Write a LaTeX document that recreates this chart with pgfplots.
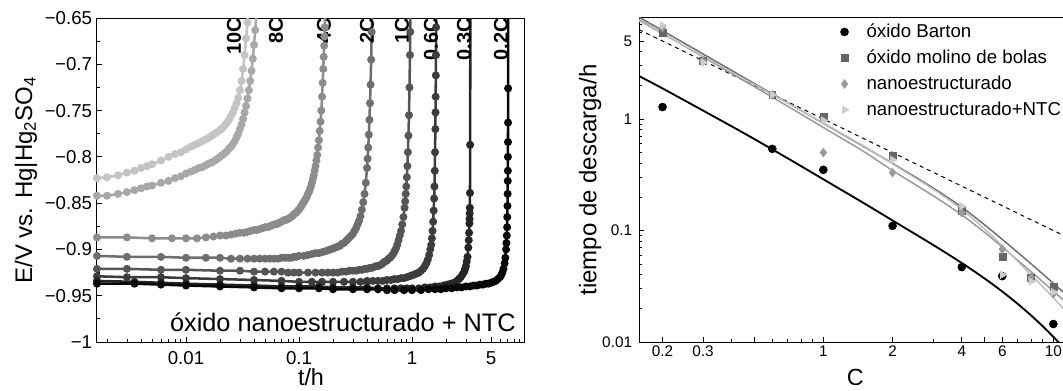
\documentclass[border=0pt]{standalone}
\usepackage{pgfplots}
\pgfplotsset{compat=1.18}
\usepackage{fontspec}
\setmainfont{Liberation Sans}
\definecolor{cA}{HTML}{C4C4C4}
\definecolor{cB}{HTML}{A8A8A8}
\definecolor{cC}{HTML}{8C8C8C}
\definecolor{cD}{HTML}{6E6E6E}
\definecolor{cE}{HTML}{555555}
\definecolor{cF}{HTML}{3C3C3C}
\definecolor{cG}{HTML}{262626}
\definecolor{cH}{HTML}{080808}
\definecolor{mMol}{HTML}{666666}
\definecolor{mNano}{HTML}{9A9A9A}
\definecolor{mNtc}{HTML}{CCCCCC}
\definecolor{lDark}{HTML}{6E6E6E}
\definecolor{lMed}{HTML}{999999}
\definecolor{lLight}{HTML}{BDBDBD}
\newcommand{\legfont}{\fontsize{14}{16}\selectfont}
\begin{document}
\begin{tikzpicture}
% ---------------- left panel ----------------
\begin{axis}[
  at={(72.75pt,36pt)}, anchor=south west, scale only axis,
  width=321pt, height=243pt,
  xmode=log, xmin=0.00163, xmax=10, ymin=-1, ymax=-0.65,
  axis line style={line width=0.75pt},
  tick align=inside, tick pos=left,
  xtick={0.01,0.1,1,5}, xticklabels={0.01,0.1,1,5},
  minor xtick={0.002,0.003,0.004,0.005,0.006,0.007,0.008,0.009,0.02,0.03,0.04,0.05,0.06,0.07,0.08,0.09,0.2,0.3,0.4,0.5,0.6,0.7,0.8,0.9,2,3,4,6,7,8,9},
  ytick={-1,-0.95,-0.9,-0.85,-0.8,-0.75,-0.7,-0.65},
  yticklabels={−1,−0.95,−0.9,−0.85,−0.8,−0.75,−0.7,−0.65},
  minor ytick={-0.975,-0.925,-0.875,-0.825,-0.775,-0.725,-0.675},
  major tick length=4pt, minor tick length=2.5pt,
  tick style={black, line width=0.6pt},
  ticklabel style={font=\fontsize{14}{16}\selectfont},
  xticklabel style={inner sep=0pt, yshift=-7pt},
  yticklabel style={inner sep=0pt, xshift=-3.5pt},
  xlabel={t/h},
  ylabel={E/V vs. Hg|Hg\textsubscript{2}SO\textsubscript{4}},
  xlabel style={at={(axis description cs:0.5,-0.082)}, anchor=north, inner sep=0pt, font=\fontsize{17.5}{20}\selectfont},
  ylabel style={at={(axis description cs:-0.166,0.5)}, anchor=center, inner sep=0pt, font=\fontsize{18}{20}\selectfont},
  every axis plot/.append style={line width=1.9pt, mark=*, mark size=2pt},
]
% 10C
\addplot[cA, mark options={fill=cA, draw=cA}] coordinates {
(0.00163,-0.823)(0.002,-0.822)(0.0025,-0.820)(0.003,-0.817)(0.0035,-0.815)(0.004,-0.812)(0.0045,-0.810)(0.005,-0.808)(0.006,-0.804)(0.007,-0.800)(0.008,-0.797)(0.009,-0.795)(0.010,-0.792)(0.011,-0.789)(0.012,-0.787)(0.013,-0.785)(0.014,-0.783)(0.015,-0.781)(0.016,-0.779)(0.017,-0.777)(0.018,-0.775)(0.019,-0.773)(0.020,-0.771)(0.021,-0.769)(0.022,-0.766)(0.023,-0.763)(0.024,-0.760)(0.025,-0.756)(0.026,-0.752)(0.027,-0.747)(0.028,-0.742)(0.029,-0.736)(0.030,-0.728)(0.031,-0.718)(0.032,-0.705)(0.033,-0.690)(0.034,-0.672)(0.035,-0.655)(0.0356,-0.640)};
% 8C
\addplot[cB, mark options={fill=cB, draw=cB}] coordinates {
(0.00163,-0.842)(0.002,-0.842)(0.0025,-0.840)(0.003,-0.838)(0.0035,-0.836)(0.004,-0.834)(0.0045,-0.832)(0.005,-0.831)(0.006,-0.828)(0.007,-0.826)(0.008,-0.823)(0.009,-0.821)(0.010,-0.818)(0.011,-0.816)(0.012,-0.814)(0.013,-0.812)(0.014,-0.811)(0.015,-0.809)(0.016,-0.807)(0.017,-0.806)(0.018,-0.804)(0.019,-0.802)(0.020,-0.800)(0.021,-0.798)(0.022,-0.796)(0.023,-0.794)(0.024,-0.791)(0.025,-0.789)(0.026,-0.786)(0.027,-0.783)(0.028,-0.779)(0.029,-0.775)(0.030,-0.770)(0.031,-0.765)(0.032,-0.759)(0.033,-0.752)(0.034,-0.745)(0.035,-0.737)(0.036,-0.728)(0.037,-0.718)(0.038,-0.707)(0.039,-0.694)(0.040,-0.679)(0.041,-0.663)(0.042,-0.646)};
% 4C
\addplot[cC, mark options={fill=cC, draw=cC}] coordinates {
(0.00163,-0.887)(0.003,-0.887)(0.005,-0.888)(0.0075,-0.888)(0.01,-0.888)(0.0125,-0.888)(0.015,-0.887)(0.0175,-0.886)(0.02,-0.885)(0.0225,-0.885)(0.025,-0.884)(0.0275,-0.883)(0.03,-0.882)(0.0325,-0.882)(0.035,-0.881)(0.0375,-0.880)(0.04,-0.879)(0.0425,-0.879)(0.045,-0.878)(0.0475,-0.877)(0.05,-0.876)(0.0525,-0.876)(0.055,-0.875)(0.0575,-0.874)(0.06,-0.873)(0.0625,-0.873)(0.065,-0.872)(0.0675,-0.871)(0.07,-0.870)(0.0725,-0.869)(0.075,-0.868)(0.0775,-0.868)(0.08,-0.867)(0.0825,-0.866)(0.085,-0.865)(0.0875,-0.864)(0.09,-0.862)(0.0925,-0.861)(0.095,-0.860)(0.0975,-0.858)(0.10,-0.857)(0.1025,-0.855)(0.105,-0.853)(0.1075,-0.851)(0.11,-0.849)(0.1125,-0.847)(0.115,-0.845)(0.1175,-0.843)(0.12,-0.840)(0.1225,-0.838)(0.125,-0.835)(0.1275,-0.832)(0.13,-0.828)(0.1325,-0.824)(0.135,-0.820)(0.1375,-0.815)(0.14,-0.810)(0.1425,-0.804)(0.145,-0.798)(0.1475,-0.790)(0.15,-0.782)(0.1525,-0.772)(0.155,-0.762)(0.1575,-0.750)(0.16,-0.735)(0.162,-0.720)(0.164,-0.705)(0.1655,-0.692)(0.167,-0.680)(0.168,-0.670)(0.169,-0.660)(0.171,-0.640)};
% 2C
\addplot[cD, mark options={fill=cD, draw=cD}] coordinates {
(0.00163,-0.907)(0.003,-0.908)(0.006,-0.908)(0.01,-0.909)(0.015,-0.909)(0.02,-0.909)(0.025,-0.910)(0.03,-0.910)(0.035,-0.910)(0.04,-0.910)(0.045,-0.910)(0.05,-0.910)(0.055,-0.910)(0.06,-0.910)(0.065,-0.910)(0.07,-0.909)(0.075,-0.909)(0.08,-0.909)(0.085,-0.909)(0.09,-0.908)(0.095,-0.908)(0.10,-0.907)(0.11,-0.907)(0.12,-0.906)(0.13,-0.905)(0.14,-0.904)(0.15,-0.904)(0.16,-0.903)(0.17,-0.902)(0.18,-0.901)(0.19,-0.900)(0.20,-0.899)(0.21,-0.898)(0.22,-0.897)(0.23,-0.896)(0.24,-0.894)(0.25,-0.893)(0.26,-0.891)(0.27,-0.889)(0.28,-0.887)(0.29,-0.885)(0.30,-0.883)(0.31,-0.880)(0.32,-0.877)(0.33,-0.873)(0.34,-0.869)(0.35,-0.864)(0.36,-0.857)(0.37,-0.849)(0.38,-0.840)(0.39,-0.828)(0.40,-0.812)(0.405,-0.802)(0.41,-0.790)(0.415,-0.776)(0.42,-0.760)(0.425,-0.742)(0.43,-0.722)(0.435,-0.695)(0.44,-0.665)(0.443,-0.645)};
% 1C
\addplot[cE, mark options={fill=cE, draw=cE}] coordinates {
(0.00163,-0.921)(0.003,-0.921)(0.006,-0.922)(0.01,-0.922)(0.02,-0.923)(0.03,-0.923)(0.04,-0.924)(0.05,-0.924)(0.06,-0.924)(0.07,-0.924)(0.08,-0.925)(0.09,-0.925)(0.10,-0.925)(0.12,-0.925)(0.14,-0.925)(0.16,-0.925)(0.18,-0.925)(0.20,-0.925)(0.22,-0.925)(0.24,-0.924)(0.26,-0.924)(0.28,-0.923)(0.30,-0.923)(0.32,-0.923)(0.34,-0.922)(0.36,-0.922)(0.38,-0.921)(0.40,-0.921)(0.42,-0.920)(0.44,-0.920)(0.46,-0.919)(0.48,-0.918)(0.50,-0.918)(0.52,-0.917)(0.54,-0.916)(0.56,-0.914)(0.58,-0.913)(0.60,-0.912)(0.62,-0.910)(0.64,-0.909)(0.66,-0.907)(0.68,-0.905)(0.70,-0.902)(0.72,-0.899)(0.74,-0.895)(0.76,-0.890)(0.78,-0.885)(0.80,-0.880)(0.82,-0.873)(0.84,-0.865)(0.86,-0.855)(0.87,-0.848)(0.88,-0.840)(0.89,-0.832)(0.90,-0.822)(0.91,-0.810)(0.92,-0.795)(0.93,-0.777)(0.94,-0.755)(0.95,-0.725)(0.96,-0.690)(0.965,-0.665)(0.97,-0.645)};
% 0.6C
\addplot[cF, mark options={fill=cF, draw=cF}] coordinates {
(0.00163,-0.929)(0.003,-0.930)(0.006,-0.930)(0.01,-0.931)(0.02,-0.932)(0.04,-0.933)(0.07,-0.934)(0.1,-0.935)(0.13,-0.935)(0.16,-0.935)(0.2,-0.935)(0.25,-0.935)(0.3,-0.935)(0.35,-0.935)(0.4,-0.934)(0.45,-0.934)(0.5,-0.934)(0.55,-0.934)(0.6,-0.933)(0.65,-0.933)(0.7,-0.932)(0.75,-0.932)(0.8,-0.931)(0.85,-0.931)(0.9,-0.930)(0.95,-0.929)(1.0,-0.928)(1.05,-0.927)(1.1,-0.926)(1.15,-0.925)(1.2,-0.923)(1.25,-0.921)(1.3,-0.918)(1.34,-0.915)(1.38,-0.911)(1.42,-0.906)(1.45,-0.900)(1.48,-0.895)(1.50,-0.888)(1.52,-0.880)(1.54,-0.870)(1.555,-0.858)(1.57,-0.845)(1.58,-0.832)(1.59,-0.815)(1.60,-0.795)(1.61,-0.770)(1.615,-0.752)(1.62,-0.735)(1.625,-0.712)(1.63,-0.690)(1.635,-0.660)(1.64,-0.645)};
% 0.3C
\addplot[cG, mark options={fill=cG, draw=cG}] coordinates {
(0.00163,-0.934)(0.0035,-0.935)(0.006,-0.936)(0.01,-0.937)(0.02,-0.938)(0.04,-0.939)(0.07,-0.940)(0.1,-0.940)(0.15,-0.940)(0.2,-0.941)(0.3,-0.941)(0.4,-0.941)(0.5,-0.942)(0.6,-0.942)(0.7,-0.942)(0.8,-0.942)(0.9,-0.942)(1.0,-0.942)(1.15,-0.942)(1.3,-0.941)(1.45,-0.941)(1.6,-0.940)(1.75,-0.940)(1.9,-0.939)(2.05,-0.938)(2.2,-0.937)(2.35,-0.936)(2.5,-0.934)(2.6,-0.932)(2.7,-0.930)(2.8,-0.927)(2.9,-0.924)(2.95,-0.921)(3.0,-0.918)(3.05,-0.913)(3.1,-0.908)(3.15,-0.898)(3.18,-0.890)(3.2,-0.882)(3.22,-0.872)(3.23,-0.867)(3.24,-0.861)(3.25,-0.855)(3.26,-0.839)(3.27,-0.787)(3.285,-0.640)};
% 0.2C
\addplot[cH, mark options={fill=cH, draw=cH}] coordinates {
(0.00163,-0.937)(0.0035,-0.937)(0.006,-0.938)(0.01,-0.939)(0.02,-0.940)(0.04,-0.941)(0.07,-0.942)(0.1,-0.942)(0.15,-0.942)(0.2,-0.943)(0.3,-0.943)(0.4,-0.943)(0.5,-0.943)(0.6,-0.944)(0.7,-0.944)(0.85,-0.944)(1.0,-0.944)(1.2,-0.944)(1.4,-0.943)(1.6,-0.943)(1.8,-0.943)(2.0,-0.942)(2.25,-0.942)(2.5,-0.941)(2.75,-0.941)(3.0,-0.940)(3.25,-0.940)(3.5,-0.939)(3.75,-0.939)(4.0,-0.938)(4.25,-0.938)(4.5,-0.937)(4.75,-0.937)(5.0,-0.936)(5.25,-0.935)(5.5,-0.934)(5.75,-0.932)(6.0,-0.930)(6.15,-0.928)(6.3,-0.925)(6.45,-0.921)(6.6,-0.915)(6.7,-0.909)(6.8,-0.900)(6.85,-0.893)(6.9,-0.885)(6.95,-0.876)(6.97,-0.865)(7.0,-0.853)(7.02,-0.840)(7.04,-0.826)(7.05,-0.815)(7.06,-0.800)(7.07,-0.784)(7.08,-0.763)(7.09,-0.726)(7.10,-0.640)};
\begin{scope}[every node/.style={font=\fontsize{15}{17}\selectfont\bfseries, rotate=90, anchor=east, inner sep=0pt, yshift=-3pt}]
\node at (axis cs:0.0245,-0.65) {10C};
\node at (axis cs:0.0577,-0.65) {8C};
\node at (axis cs:0.153,-0.65) {4C};
\node at (axis cs:0.368,-0.65) {2C};
\node at (axis cs:0.75,-0.65) {1C};
\node at (axis cs:1.36,-0.65) {0.6C};
\node at (axis cs:2.66,-0.65) {0.3C};
\node at (axis cs:5.65,-0.65) {0.2C};
\end{scope}
\node[anchor=base east, inner sep=0pt, font=\fontsize{19}{21}\selectfont] at (rel axis cs:0.979,0.031) {óxido nanoestructurado + NTC};
\end{axis}
% ---------------- right panel ----------------
\begin{axis}[
  at={(479.25pt,36pt)}, anchor=south west, scale only axis,
  width=324.4pt, height=243pt,
  xmode=log, ymode=log, xmin=0.158, xmax=12, ymin=0.01, ymax=8.05,
  axis line style={line width=0.75pt},
  tick align=inside, tick pos=left,
  xtick={0.2,0.3,1,2,4,6,10}, xticklabels={0.2,0.3,1,2,4,6,10},
  extra x ticks={0.5,5}, extra x tick labels={},
  minor xtick={0.4,0.6,0.7,0.8,0.9,3,7,8,9},
  ytick={0.01,0.1,1,5}, yticklabels={0.01,0.1,1,5},
  minor ytick={0.02,0.03,0.04,0.05,0.06,0.07,0.08,0.09,0.2,0.3,0.4,0.5,0.6,0.7,0.8,0.9,2,3,4,6,7,8},
  major tick length=4pt, minor tick length=2.5pt,
  tick style={black, line width=0.6pt},
  ticklabel style={font=\fontsize{11.5}{13}\selectfont},
  xticklabel style={inner sep=0pt, yshift=-2.5pt},
  yticklabel style={inner sep=0pt, xshift=-5pt},
  xlabel={C},
  ylabel={tiempo de descarga/h},
  xlabel style={at={(axis description cs:0.5,-0.082)}, anchor=north, inner sep=0pt, font=\fontsize{17.5}{20}\selectfont},
  ylabel style={at={(axis description cs:-0.113,0.5)}, anchor=center, inner sep=0pt, font=\fontsize{18}{20}\selectfont},
  legend style={at={(axis description cs:0.439,1.003)}, anchor=north west, draw=none, fill=none,
    row sep=1.5pt, nodes={text height=11pt, text depth=3pt, inner sep=2pt}},
  legend cell align=left,
  legend image code/.code={%
    \path[draw=none, fill=none] (0cm,-0.1cm) rectangle (0.81cm,0.1cm);
    \draw[mark repeat=2,mark phase=2,#1] plot coordinates {(0cm,0cm)(0.3cm,0cm)(0.6cm,0cm)};},
]
% fits
\addplot[forget plot, black, dashed, line width=0.75pt] coordinates {(0.158,6.33)(12,0.0833)};
\addplot[forget plot, black, line width=1.4pt, smooth] coordinates {
(0.158,2.43)(0.2,1.88)(0.3,1.19)(0.45,0.75)(0.6,0.534)(0.8,0.378)(1,0.288)(1.5,0.176)(2,0.123)(3,0.0743)(4,0.0511)(5,0.0374)(6,0.02835)(7,0.02198)(8,0.01733)(9,0.01383)(10,0.01113)(11,0.00904)};
\addplot[forget plot, lDark, line width=1.1pt, smooth] coordinates {
(0.158,8.2)(0.3,3.83)(0.6,1.68)(1,0.914)(1.5,0.565)(2,0.40)(3,0.241)(4,0.162)(5,0.1133)(6,0.0832)(8,0.0503)(10,0.0336)(12,0.024)};
\addplot[forget plot, lMed, line width=1.1pt, smooth] coordinates {
(0.158,7.8)(0.3,3.6)(0.6,1.57)(1,0.84)(1.5,0.51)(2,0.345)(3,0.205)(4,0.138)(5,0.097)(6,0.071)(8,0.0428)(10,0.0286)(12,0.0204)};
\addplot[forget plot, lLight, line width=1.1pt, smooth] coordinates {
(0.158,7.6)(0.3,3.65)(0.6,1.66)(1,0.92)(1.5,0.57)(2,0.395)(3,0.235)(4,0.155)(5,0.104)(6,0.073)(8,0.040)(10,0.025)(12,0.0165)};
% markers
\addplot[only marks, mark=*, mark size=3pt, black] coordinates {
(0.2,1.28)(0.6,0.54)(1,0.35)(2,0.11)(4,0.047)(6,0.039)(10,0.0145)};
\addlegendentry{\legfont óxido Barton}
\addplot[only marks, mark=square*, mark size=2.6pt, mMol, mark options={fill=mMol, draw=mMol}] coordinates {
(0.2,5.9)(0.3,3.3)(0.6,1.65)(1,1.05)(2,0.47)(4,0.15)(6,0.058)(8,0.038)(10,0.031)};
\addlegendentry{\legfont óxido molino de bolas}
\addplot[only marks, mark=diamond*, mark size=3.3pt, mNano, mark options={fill=mNano, draw=mNano}] coordinates {
(0.2,6.6)(0.3,3.3)(0.6,1.65)(1,0.50)(2,0.33)(4,0.145)(6,0.068)(8,0.038)(10,0.027)};
\addlegendentry{\legfont nanoestructurado}
\addplot[only marks, mark=triangle*, mark size=3.3pt, mNtc, mark options={fill=mNtc, draw=mNtc, rotate=-90}] coordinates {
(0.2,6.9)(0.3,3.2)(0.6,1.65)(1,0.97)(2,0.43)(4,0.165)(6,0.040)(8,0.035)(10,0.028)};
\addlegendentry{\legfont nanoestructurado+NTC}
\end{axis}
\pgfresetboundingbox
\useasboundingbox (0,0) rectangle (797.25pt,292.5pt);
\end{tikzpicture}
\end{document}
